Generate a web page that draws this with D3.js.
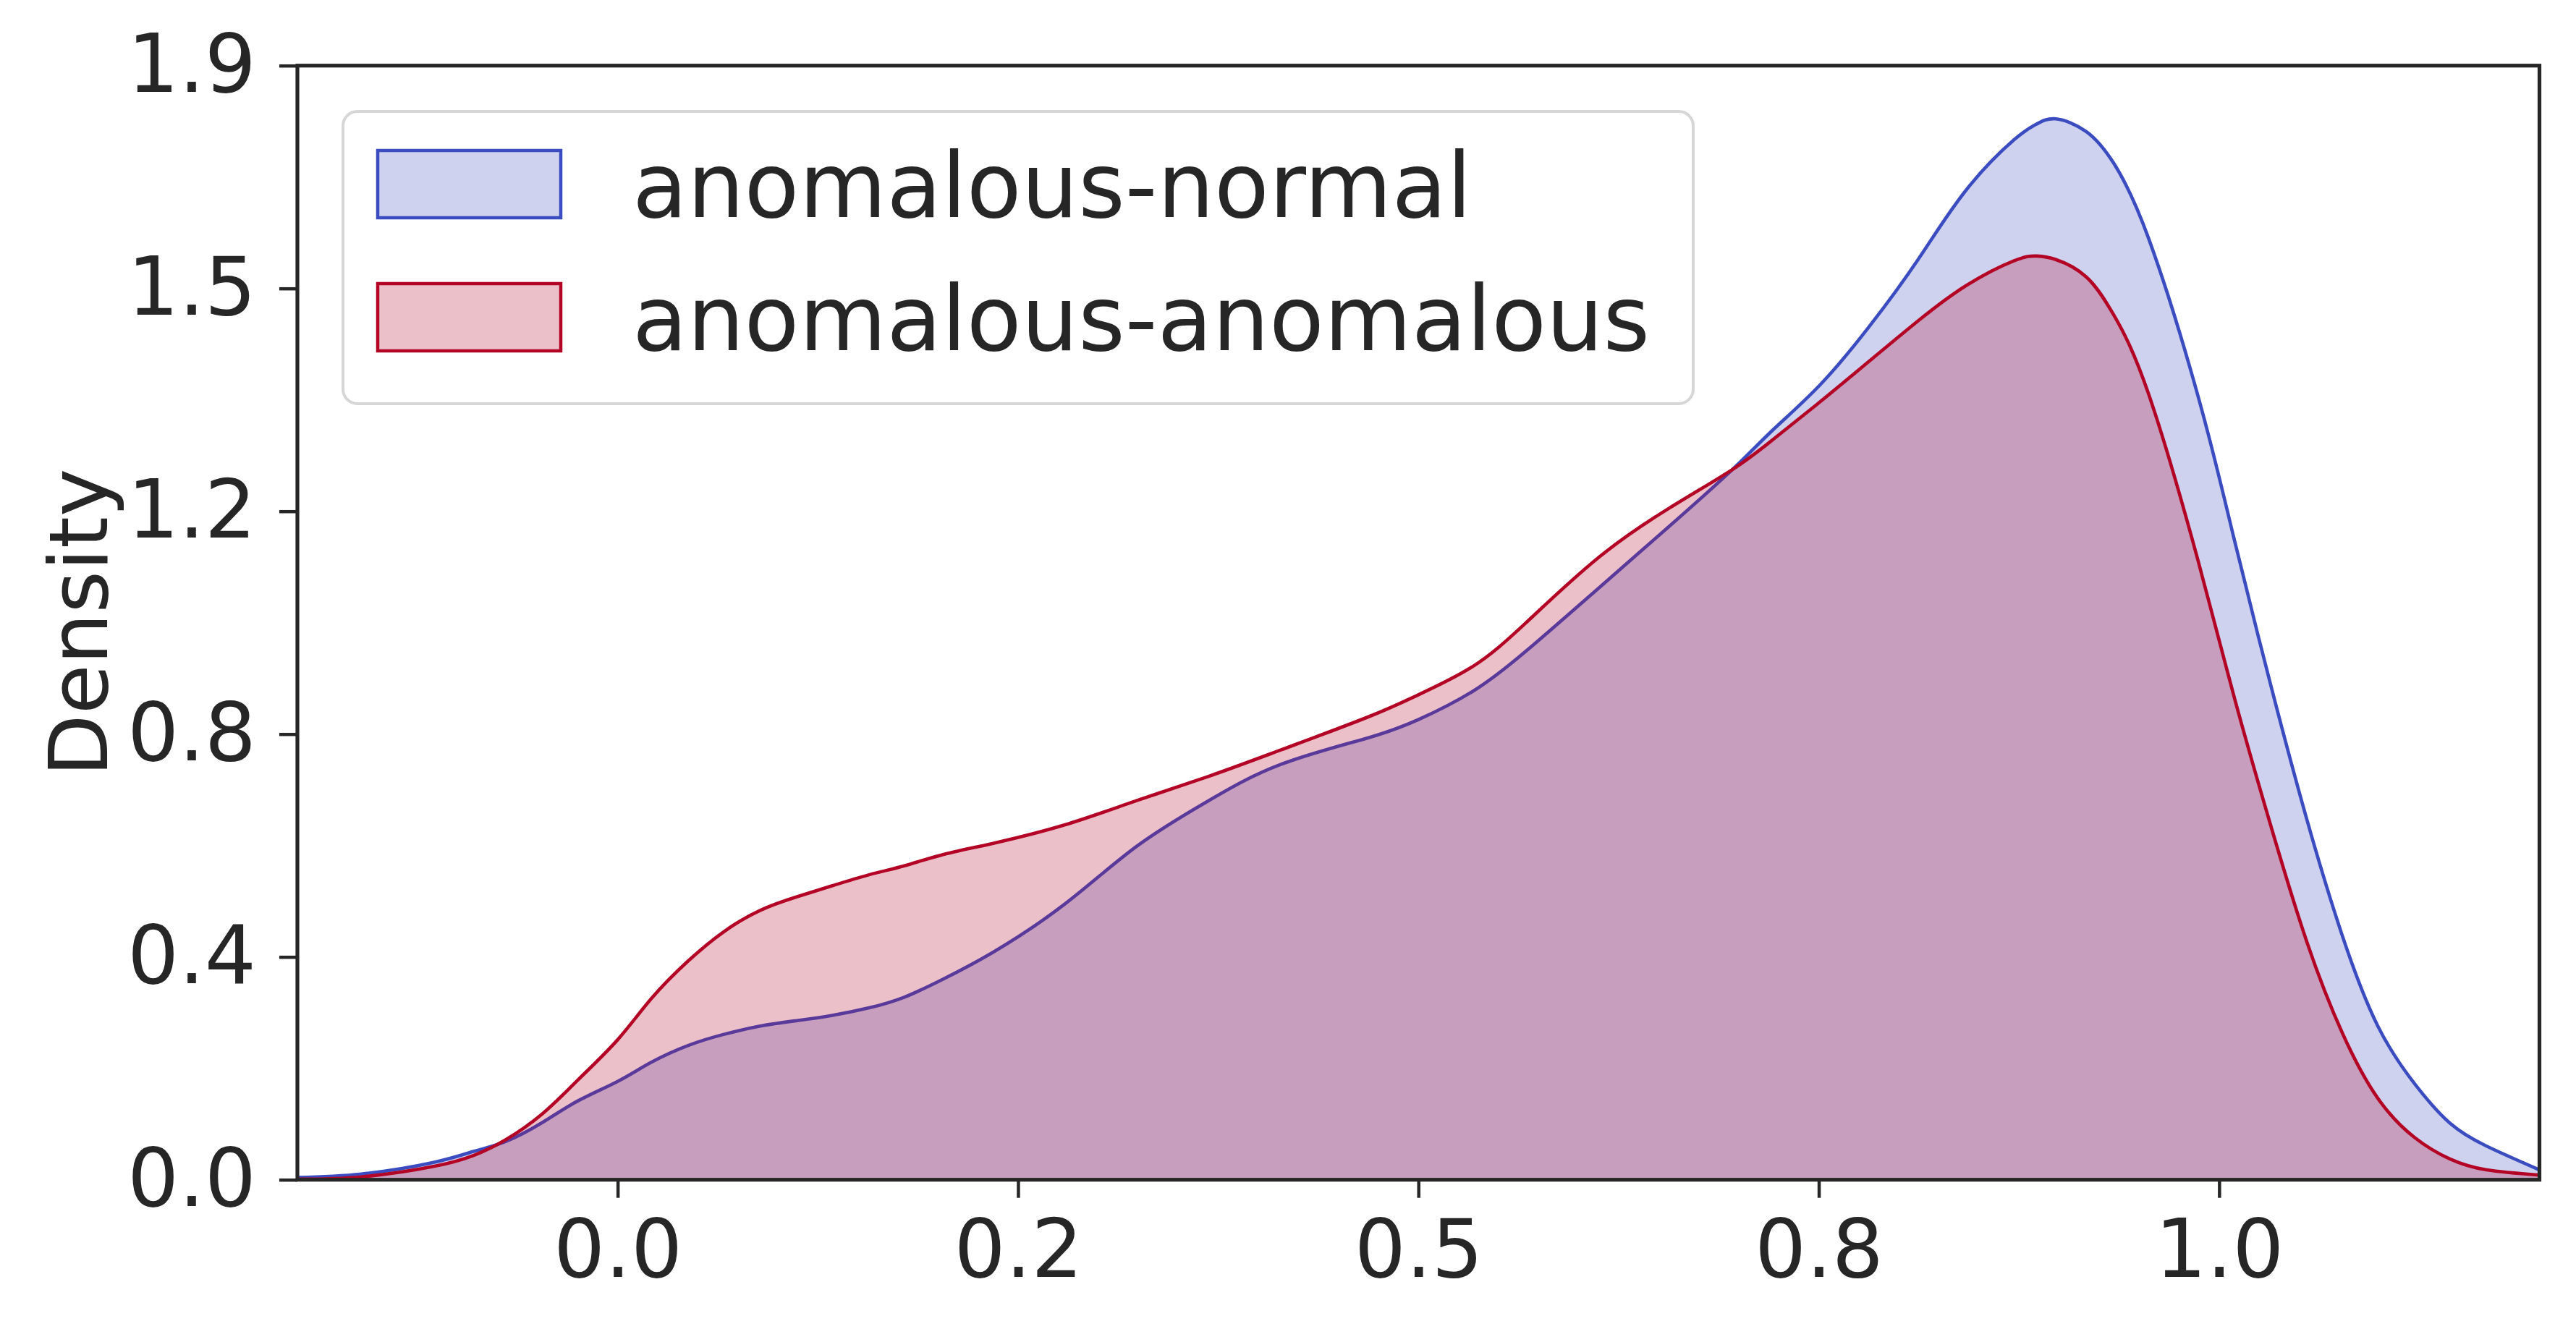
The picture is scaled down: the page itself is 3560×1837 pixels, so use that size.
<!DOCTYPE html>
<html>
<head>
<meta charset="utf-8">
<script src="https://cdn.jsdelivr.net/npm/d3@7"></script>
<style>
    html, body { margin: 0; padding: 0; background: #fff; }
    svg { display: block; font-family: "DejaVu Sans", sans-serif; }
</style>
</head>
<body>
<svg id="chart"></svg>
<script>
// 推定したKDE曲線のサンプル点
const X_GRID = [-0.2, -0.16, -0.115, -0.09, -0.07, -0.047, -0.025, 0.0, 0.021, 0.044, 0.066, 0.089,
    0.112, 0.134, 0.157, 0.179, 0.202, 0.234, 0.279, 0.324, 0.369, 0.414, 0.468, 0.5, 0.534, 0.567,
    0.612, 0.657, 0.696, 0.721, 0.751, 0.782, 0.812, 0.842, 0.872, 0.886, 0.898, 0.917, 0.934, 0.956,
    0.987, 1.009, 1.032, 1.055, 1.077, 1.099, 1.122, 1.144, 1.167, 1.2];

const NORMAL_DENSITY = [0.004, 0.010, 0.030, 0.049, 0.066, 0.099, 0.136, 0.170, 0.203, 0.232, 0.251, 0.2655,
    0.275, 0.284, 0.297, 0.3155, 0.345, 0.3925, 0.476, 0.576, 0.655, 0.7175, 0.763, 0.795, 0.844, 0.913,
    1.021, 1.130, 1.227, 1.2946, 1.374, 1.476, 1.590, 1.710, 1.797, 1.824, 1.833, 1.811, 1.757, 1.626,
    1.352, 1.111, 0.857, 0.620, 0.421, 0.266, 0.166, 0.098, 0.058, 0.017];

const ANOMALOUS_DENSITY = [0.001, 0.005, 0.023, 0.042, 0.069, 0.114, 0.172, 0.242, 0.313, 0.378, 0.428, 0.4655,
    0.489, 0.508, 0.527, 0.5425, 0.561, 0.581, 0.613, 0.655, 0.697, 0.7425, 0.799, 0.838, 0.887, 0.962,
    1.074, 1.161, 1.227, 1.278, 1.3446, 1.4155, 1.484, 1.545, 1.588, 1.596, 1.590, 1.560, 1.495, 1.357,
    1.068, 0.838, 0.614, 0.409, 0.253, 0.141, 0.073, 0.036, 0.017, 0.008];

const SERIES_LABELS = ['anomalous-normal', 'anomalous-anomalous'];
const SERIES_COLORS = ['#3b4cc0', '#b40426'];

const X_DOMAIN = [-0.2, 1.2];
const X_TICKS = [0, 0.25, 0.5, 0.75, 1.0];
const X_TICK_LABELS = ['0.0', '0.2', '0.5', '0.8', '1.0'];

const Y_DOMAIN = [0, 1.925];
const Y_TICKS = [0, 0.385, 0.77, 1.155, 1.54, 1.925];
const Y_TICK_LABELS = ['0.0', '0.4', '0.8', '1.2', '1.5', '1.9'];

const Y_LABEL = 'Density';

class DensityChart {
    constructor() {
        this.width = 3560;
        this.height = 1837;
        this.plot = { left: 411, right: 3509.5, top: 90.7, bottom: 1630.7 };
        this.ink = '#262626';
        this.init();
    }

    init() {
        this.setupSVG();
        this.setupScales();
        this.renderDensities();
        this.renderAxes();
        this.renderLegend();
    }

    setupSVG() {
        this.svg = d3.select('#chart')
            .attr('width', this.width)
            .attr('height', this.height);

        this.svg.append('defs').append('clipPath')
            .attr('id', 'plot-clip')
            .append('rect')
            .attr('x', this.plot.left)
            .attr('y', this.plot.top)
            .attr('width', this.plot.right - this.plot.left)
            .attr('height', this.plot.bottom - this.plot.top);
    }

    setupScales() {
        this.xScale = d3.scaleLinear()
            .domain(X_DOMAIN)
            .range([this.plot.left, this.plot.right]);

        this.yScale = d3.scaleLinear()
            .domain(Y_DOMAIN)
            .range([this.plot.bottom, this.plot.top]);
    }

    renderDensities() {
        const group = this.svg.append('g')
            .attr('clip-path', 'url(#plot-clip)');

        const series = [NORMAL_DENSITY, ANOMALOUS_DENSITY];
        const curve = d3.curveNatural;

        const area = d3.area()
            .x((d, i) => this.xScale(X_GRID[i]))
            .y0(this.yScale(0))
            .y1(d => this.yScale(d))
            .curve(curve);

        const line = d3.line()
            .x((d, i) => this.xScale(X_GRID[i]))
            .y(d => this.yScale(d))
            .curve(curve);

        // 塗り → 線の順で系列ごとに重ねる
        series.forEach((values, k) => {
            group.append('path')
                .attr('d', area(values))
                .attr('fill', SERIES_COLORS[k])
                .attr('fill-opacity', 0.25);

            group.append('path')
                .attr('d', line(values))
                .attr('fill', 'none')
                .attr('stroke', SERIES_COLORS[k])
                .attr('stroke-width', 4.6)
                .attr('stroke-linejoin', 'round');
        });
    }

    renderAxes() {
        const xAxis = d3.axisBottom(this.xScale)
            .tickValues(X_TICKS)
            .tickFormat((d, i) => X_TICK_LABELS[i])
            .tickSize(25)
            .tickSizeOuter(0)
            .tickPadding(30);

        const yAxis = d3.axisLeft(this.yScale)
            .tickValues(Y_TICKS)
            .tickFormat((d, i) => Y_TICK_LABELS[i])
            .tickSize(25)
            .tickSizeOuter(0)
            .tickPadding(32);

        const gx = this.svg.append('g')
            .attr('transform', `translate(0,${this.plot.bottom})`)
            .call(xAxis);

        const gy = this.svg.append('g')
            .attr('transform', `translate(${this.plot.left},0)`)
            .call(yAxis);

        [gx, gy].forEach(g => {
            g.select('.domain').remove();
            g.selectAll('.tick line')
                .attr('stroke', this.ink)
                .attr('stroke-width', 4.5);
            g.selectAll('.tick text')
                .attr('fill', this.ink)
                .style('font-family', '"DejaVu Sans", sans-serif')
                .style('font-size', '112px');
        });

        // 枠線
        this.svg.append('rect')
            .attr('x', this.plot.left)
            .attr('y', this.plot.top)
            .attr('width', this.plot.right - this.plot.left)
            .attr('height', this.plot.bottom - this.plot.top)
            .attr('fill', 'none')
            .attr('stroke', this.ink)
            .attr('stroke-width', 5.2);

        this.svg.append('text')
            .attr('transform', `translate(148,${(this.plot.top + this.plot.bottom) / 2}) rotate(-90)`)
            .attr('text-anchor', 'middle')
            .attr('fill', this.ink)
            .style('font-size', '112px')
            .text(Y_LABEL);
    }

    renderLegend() {
        const legend = this.svg.append('g')
            .attr('class', 'legend');

        legend.append('rect')
            .attr('x', 474)
            .attr('y', 154)
            .attr('width', 1866)
            .attr('height', 404)
            .attr('rx', 20)
            .attr('fill', '#fff')
            .attr('fill-opacity', 0.8)
            .attr('stroke', '#d6d6d6')
            .attr('stroke-width', 4);

        SERIES_LABELS.forEach((label, k) => {
            const top = 208 + k * 184;

            legend.append('rect')
                .attr('x', 522)
                .attr('y', top)
                .attr('width', 253)
                .attr('height', 93)
                .attr('fill', SERIES_COLORS[k])
                .attr('fill-opacity', 0.25)
                .attr('stroke', SERIES_COLORS[k])
                .attr('stroke-width', 4.5);

            legend.append('text')
                .attr('x', 874)
                .attr('y', top + 92)
                .attr('fill', this.ink)
                .style('font-size', '124px')
                .text(label);
        });
    }
}

let chart;
document.addEventListener('DOMContentLoaded', () => {
    chart = new DensityChart();
});
</script>
</body>
</html>
